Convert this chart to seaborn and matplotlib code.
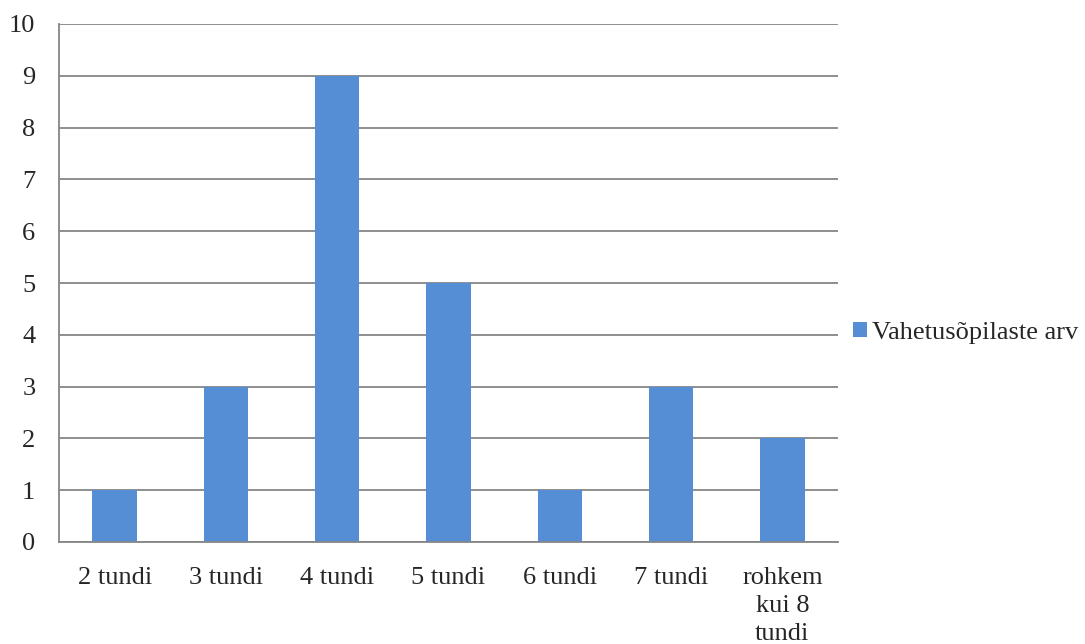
import matplotlib
matplotlib.use("Agg")
import matplotlib.pyplot as plt
import seaborn as sns
import pandas as pd
import numpy as np

categories = ["2 tundi", "3 tundi", "4 tundi", "5 tundi", "6 tundi", "7 tundi", "rohkem\nkui 8\ntundi"]
values = [1, 3, 9, 5, 1, 3, 2]
series_name = "Vahetusõpilaste arv"

sns.set_theme(style="white")
plt.rcParams['font.family'] = ['Liberation Serif', 'DejaVu Serif']

df = pd.DataFrame({"cat": categories, "val": values, "series": series_name})

fig = plt.figure(figsize=(10.85, 6.44), dpi=100)
ax = fig.add_axes([59/1085, 1-542/644, (838-59)/1085, (542-24)/644])

bar_color = "#558ED5"
sns.barplot(data=df, x="cat", y="val", hue="series", palette=[bar_color], width=0.4,
            ax=ax, saturation=1, edgecolor="none", legend=True)

ax.set_xlim(-0.5, len(categories) - 0.5)
ax.set_ylim(0, 10)
ax.set_yticks(range(0, 11))
ax.yaxis.grid(True, color="#868686", linewidth=1.3)
ax.set_axisbelow(True)
ax.set_xlabel("")
ax.set_ylabel("")

fs = 19
# category labels on minor ticks, boundary tick marks on major
ax.set_xticks(np.arange(-0.5, len(categories), 1.0))
ax.set_xticklabels([])
ax.set_xticks(range(len(categories)), minor=True)
ax.set_xticklabels(categories, minor=True, fontsize=fs, linespacing=1.35)
ax.tick_params(axis="x", which="major", direction="out", length=6, width=1.3, color="#868686")
ax.tick_params(axis="x", which="minor", length=0, pad=18)
ax.tick_params(axis="y", direction="out", length=6, width=1.3, color="#868686", labelsize=fs, pad=11)

for s in ["top", "right"]:
    ax.spines[s].set_visible(False)
for s in ["left", "bottom"]:
    ax.spines[s].set_color("#868686")
    ax.spines[s].set_linewidth(1.3)

leg = ax.legend(loc="center left", frameon=False, fontsize=fs, handlelength=0.53, handleheight=0.53,
                handletextpad=0.2, borderaxespad=0, borderpad=0)
leg.set_bbox_to_anchor((853/1085, 1-333/644), transform=fig.transFigure)

fig.savefig("out.png", dpi=100)
